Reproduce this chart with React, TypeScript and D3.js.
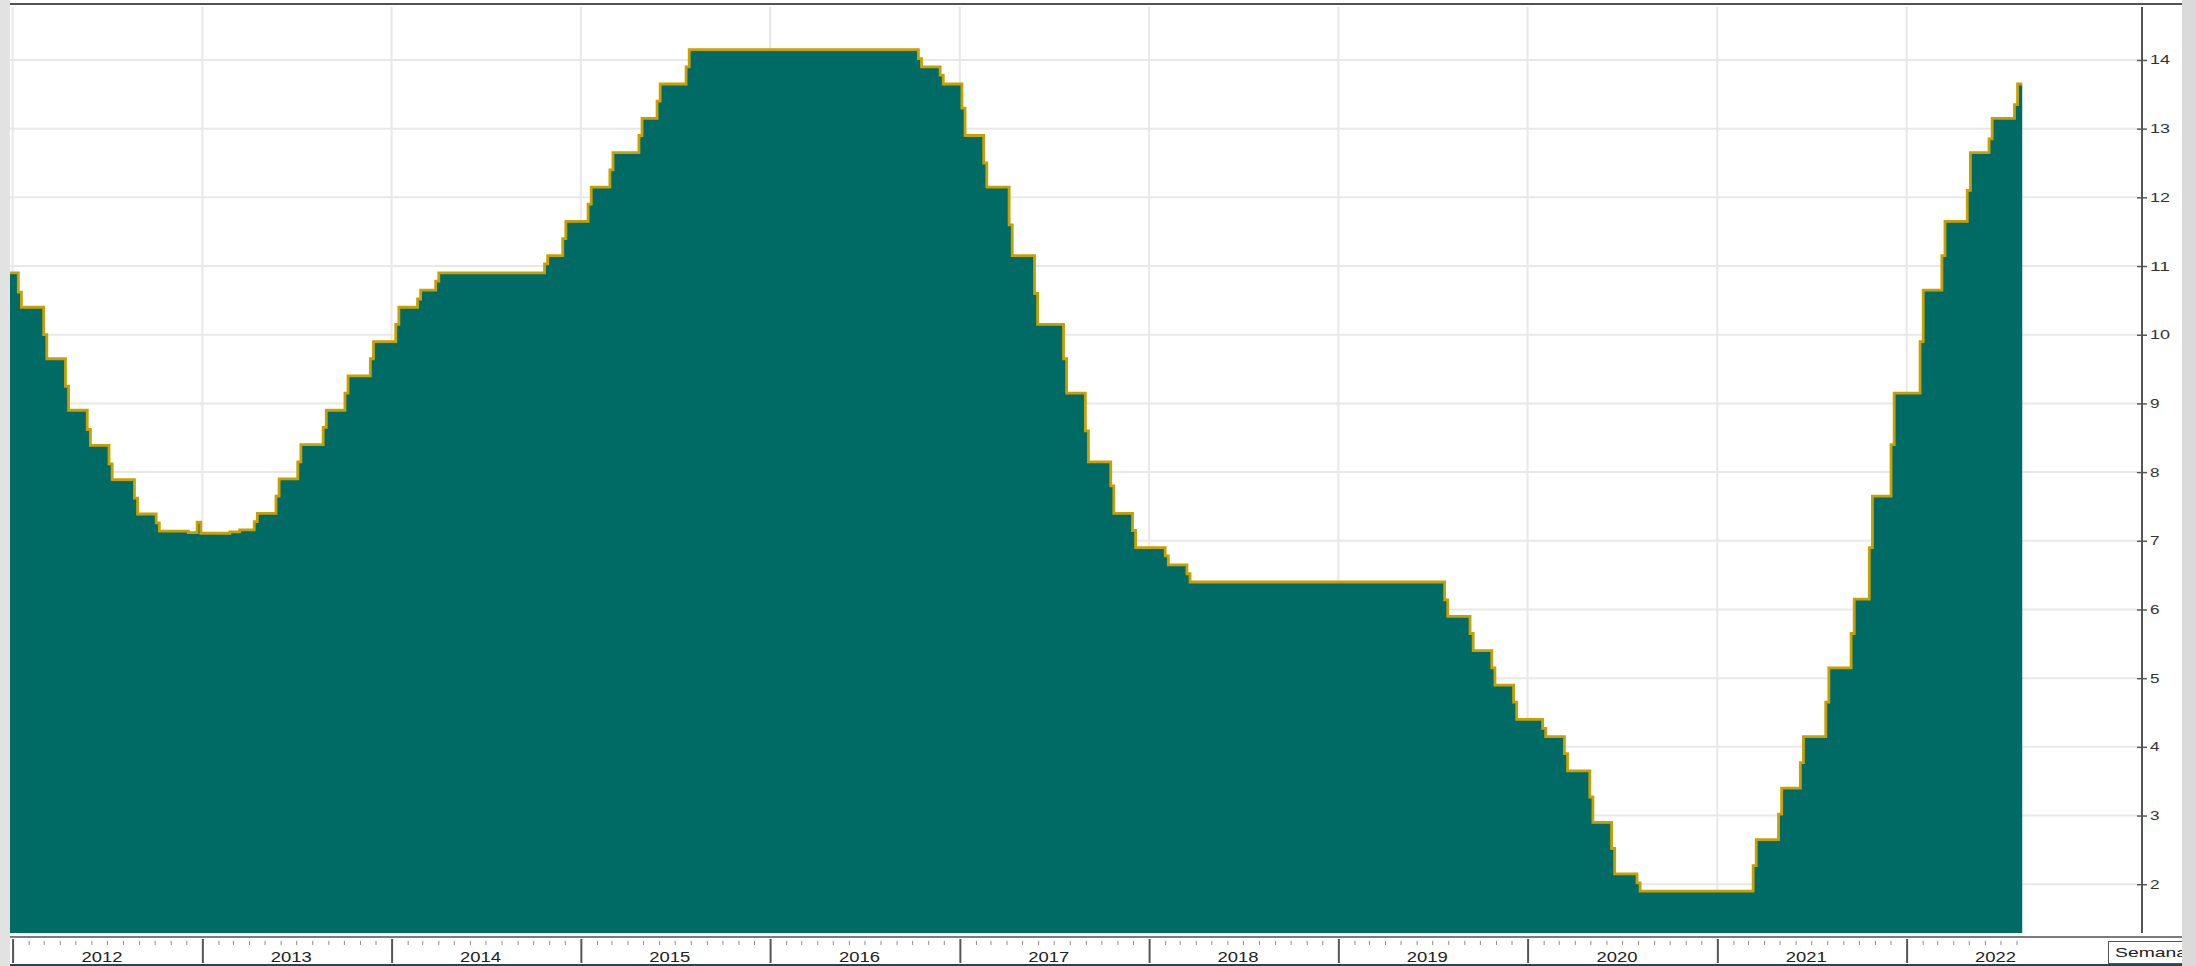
import React, { useEffect, useRef } from "react";
import * as d3 from "d3";

// weekly Selic (effective), step changes
const startDate = "2011-12-27";
const startRate = 10.9;
const endDate = "2022-08-12";
const axisEndDate = "2023-03-31";

const stepDates = [
  "2012-01-18", "2012-03-07", "2012-04-18", "2012-05-30", "2012-07-11", "2012-08-29", "2012-10-10",
  "2012-12-05", "2012-12-22", "2012-12-29", "2013-02-23", "2013-03-14",
  "2013-04-17", "2013-05-29", "2013-07-10", "2013-08-28", "2013-10-09", "2013-11-27",
  "2014-01-15", "2014-02-26", "2014-04-02", "2014-10-29", "2014-12-03",
  "2015-01-21", "2015-03-04", "2015-04-29", "2015-06-03", "2015-07-29",
  "2016-10-19", "2016-11-30",
  "2017-01-11", "2017-02-22", "2017-04-12", "2017-05-31", "2017-07-26", "2017-09-06", "2017-10-25", "2017-12-06",
  "2018-02-07", "2018-03-21",
  "2019-07-31", "2019-09-18", "2019-10-30", "2019-12-11",
  "2020-02-05", "2020-03-18", "2020-05-06", "2020-06-17", "2020-08-05",
  "2021-03-17", "2021-05-05", "2021-06-16", "2021-08-04", "2021-09-22", "2021-10-27", "2021-12-08",
  "2022-02-02", "2022-03-16", "2022-05-04", "2022-06-15", "2022-08-03",
];

const stepRates = [
  10.4, 9.65, 8.9, 8.39, 7.89, 7.39, 7.14,
  7.12, 7.27, 7.11, 7.13, 7.16,
  7.4, 7.9, 8.4, 8.9, 9.4, 9.9,
  10.4, 10.65, 10.9, 11.15, 11.65,
  12.15, 12.65, 13.15, 13.65, 14.15,
  13.9, 13.65,
  12.9, 12.15, 11.15, 10.15, 9.15, 8.15, 7.4, 6.9,
  6.65, 6.4,
  5.9, 5.4, 4.9, 4.4,
  4.15, 3.65, 2.9, 2.15, 1.9,
  2.65, 3.4, 4.15, 5.15, 6.15, 7.65, 9.15,
  10.65, 11.65, 12.65, 13.15, 13.65,
];

// average of the week in which the rate changed (the little notch)
const weekRates = [
  10.62, 10.0, 9.25, 8.62, 8.12, 7.62, 7.26,
  null, null, null, null, null,
  7.28, 7.65, 8.15, 8.65, 9.15, 9.65,
  10.15, 10.52, 10.78, 11.03, 11.4,
  11.9, 12.4, 12.9, 13.4, 13.9,
  14.02, 13.78,
  13.3, 12.5, 11.6, 10.6, 9.65, 8.6, 7.8, 7.15,
  6.78, 6.52,
  6.14, 5.65, 5.15, 4.65,
  4.27, 3.9, 3.27, 2.52, 2.02,
  2.27, 3.02, 3.77, 4.65, 5.65, 6.9, 8.4,
  9.9, 11.15, 12.1, 12.85, 13.35,
];

const yTicks = [2, 3, 4, 5, 6, 7, 8, 9, 10, 11, 12, 13, 14];
const yearLabels = ["2012", "2013", "2014", "2015", "2016", "2017", "2018", "2019", "2020", "2021", "2022"];
const yMin = 1.29;
const yMax = 14.8;

const W = 2196;
const H = 966;
const margin = { left: 10, right: 2142, top: 5, bottom: 933 };
const panelRight = 2182;

const App = () => {
  const svgRef = useRef<SVGSVGElement>(null);

  useEffect(() => {
    const svg = d3.select(svgRef.current);
    svg.selectAll("*").remove();

    const parse = d3.utcParse("%Y-%m-%d");
    const x = d3
      .scaleUtc()
      .domain([parse(startDate), parse(axisEndDate)])
      .range([margin.left, margin.right]);
    const y = d3.scaleLinear().domain([yMin, yMax]).range([margin.bottom, margin.top]);

    const points: { date: Date; v: number }[] = [{ date: parse(startDate), v: startRate }];
    stepDates.forEach((s, i) => {
      const d = parse(s);
      if (weekRates[i] != null) points.push({ date: d3.utcDay.offset(d, -6), v: weekRates[i] });
      points.push({ date: d, v: stepRates[i] });
    });
    points.push({ date: parse(endDate), v: stepRates[stepRates.length - 1] });

    const years = yearLabels.map((t) => new Date(Date.UTC(+t, 0, 1)));

    svg.append("rect").attr("width", W).attr("height", H).attr("fill", "#fff");

    // grid
    svg
      .append("g")
      .selectAll("line")
      .data(yTicks)
      .join("line")
      .attr("x1", margin.left)
      .attr("x2", margin.right - 5)
      .attr("y1", (d) => y(d))
      .attr("y2", (d) => y(d))
      .attr("stroke", "#e8e8e8")
      .attr("stroke-width", 2);

    svg
      .append("g")
      .selectAll("line")
      .data(years)
      .join("line")
      .attr("x1", (d) => x(d))
      .attr("x2", (d) => x(d))
      .attr("y1", 7)
      .attr("y2", margin.bottom)
      .attr("stroke", "#e8e8e8")
      .attr("stroke-width", 2);

    // series
    const area = d3
      .area<{ date: Date; v: number }>()
      .curve(d3.curveStepAfter)
      .x((d) => x(d.date))
      .y0(margin.bottom)
      .y1((d) => y(d.v));
    const line = d3
      .line<{ date: Date; v: number }>()
      .curve(d3.curveStepAfter)
      .x((d) => x(d.date))
      .y((d) => y(d.v));

    svg.append("path").datum(points).attr("d", area).attr("fill", "#006b65");
    svg
      .append("path")
      .datum(points)
      .attr("d", line)
      .attr("fill", "none")
      .attr("stroke", "#c9a000")
      .attr("stroke-width", 2.8)
      .attr("stroke-linejoin", "miter");

    // right axis
    const yAxis = svg
      .append("g")
      .attr("transform", `translate(${margin.right},0)`)
      .call(d3.axisRight(y).tickValues(yTicks).tickSizeInner(5).tickSizeOuter(0).tickPadding(8));
    yAxis.select(".domain").remove();
    yAxis
      .append("line")
      .attr("y1", 7)
      .attr("y2", margin.bottom)
      .attr("stroke", "#555")
      .attr("stroke-width", 2);
    yAxis.selectAll(".tick line").attr("x1", -5).attr("x2", 5).attr("stroke", "#555").attr("stroke-width", 1.5);
    yAxis
      .selectAll(".tick text")
      .attr("x", 8)
      .attr("fill", "#333")
      .attr("font-family", "Liberation Sans, Arial, sans-serif")
      .attr("font-size", 12.5)
      .attr("textLength", (d: any) => (String(d).length > 1 ? 20 : 9.5))
      .attr("lengthAdjust", "spacingAndGlyphs");

    // time axis band
    svg
      .append("rect")
      .attr("x", margin.left)
      .attr("y", margin.bottom)
      .attr("width", panelRight - margin.left)
      .attr("height", H - margin.bottom)
      .attr("fill", "#fff");
    svg
      .append("line")
      .attr("x1", margin.left)
      .attr("x2", panelRight)
      .attr("y1", 937)
      .attr("y2", 937)
      .attr("stroke", "#7c7c7c")
      .attr("stroke-width", 2);

    const months = d3.utcMonth
      .range(years[0], parse(endDate))
      .filter((d) => d.getUTCMonth() !== 0);
    svg
      .append("g")
      .attr("transform", "translate(0,941)")
      .call(d3.axisBottom(x).tickValues(months).tickSize(4).tickFormat(() => ""))
      .call((g) => g.select(".domain").remove())
      .call((g) => g.selectAll(".tick line").attr("stroke", "#8a8a8a"));

    svg
      .append("g")
      .attr("transform", "translate(0,939)")
      .call(d3.axisBottom(x).tickValues(years).tickSize(24).tickFormat(() => ""))
      .call((g) => g.select(".domain").remove())
      .call((g) => g.selectAll(".tick line").attr("stroke", "#555").attr("stroke-width", 2));

    svg
      .append("g")
      .selectAll("text")
      .data(yearLabels)
      .join("text")
      .attr("x", (d) => x(new Date(Date.UTC(+d, 6, 1))) - 5)
      .attr("y", 962)
      .attr("text-anchor", "middle")
      .attr("fill", "#222")
      .attr("font-family", "Liberation Sans, Arial, sans-serif")
      .attr("font-size", 14)
      .attr("textLength", 41)
      .attr("lengthAdjust", "spacingAndGlyphs")
      .text((d) => d);

    svg
      .append("rect")
      .attr("x", 2108.5)
      .attr("y", 941.5)
      .attr("width", 100)
      .attr("height", 22)
      .attr("fill", "#fff")
      .attr("stroke", "#555");
    svg
      .append("text")
      .attr("x", 2115)
      .attr("y", 957)
      .attr("fill", "#222")
      .attr("font-family", "Liberation Sans, Arial, sans-serif")
      .attr("font-size", 13)
      .attr("textLength", 72)
      .attr("lengthAdjust", "spacingAndGlyphs")
      .text("Semana");

    // frame
    svg.append("rect").attr("x", 0).attr("y", 0).attr("width", margin.left).attr("height", H).attr("fill", "#e2e2e2");
    svg
      .append("rect")
      .attr("x", panelRight)
      .attr("y", 0)
      .attr("width", W - panelRight)
      .attr("height", H)
      .attr("fill", "#dadada");
    svg
      .append("line")
      .attr("x1", margin.left)
      .attr("x2", panelRight)
      .attr("y1", 4)
      .attr("y2", 4)
      .attr("stroke", "#1a1a1a")
      .attr("stroke-width", 1.5);
    svg
      .append("line")
      .attr("x1", margin.left)
      .attr("x2", panelRight)
      .attr("y1", 965)
      .attr("y2", 965)
      .attr("stroke", "#23475a")
      .attr("stroke-width", 2);
  }, []);

  return (
    <svg
      ref={svgRef}
      width={W}
      height={H}
      style={{ position: "absolute", left: 0, top: 0, display: "block" }}
    />
  );
};

export default App;
